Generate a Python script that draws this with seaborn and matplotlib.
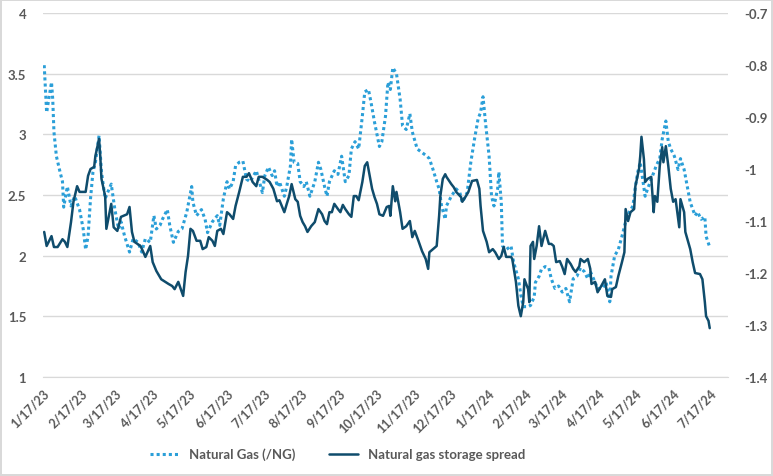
import pandas as pd
import matplotlib
matplotlib.use("Agg")
import matplotlib.pyplot as plt
import seaborn as sns

# dates are given as days after 1/17/23
start = pd.Timestamp("2023-01-17")

ng_days = [1, 3, 7, 8, 9, 11, 14, 16, 17, 20, 23, 26, 30, 33, 35, 37, 39, 41, 43, 46,
           48, 51, 53, 56, 59, 62, 64, 67, 71, 74, 78, 81, 84, 88, 91, 93, 96, 98, 102, 104,
           107, 111, 114, 118, 122, 123, 126, 130, 133, 135, 139, 143, 145, 148, 151, 153, 156, 158, 161, 164,
           167, 170, 175, 180, 182, 185, 188, 190, 192, 194, 198, 200, 203, 204, 206, 209, 211, 214, 216, 219,
           223, 226, 228, 231, 233, 235, 239, 242, 245, 248, 251, 253, 256, 259, 262, 264, 267, 269, 272, 276,
           278, 281, 283, 285, 287, 290, 293, 295, 298, 301, 303, 307, 311, 315, 317, 320, 323, 325, 327, 330,
           331, 335, 339, 342, 344, 348, 351, 354, 357, 359, 361, 363, 366, 368, 370, 373, 374, 376, 377, 380,
           384, 386, 390, 392, 394, 398, 400, 403, 404, 407, 409, 412, 415, 417, 420, 423, 426, 429, 432, 435,
           438, 441, 444, 447, 449, 453, 455, 459, 462, 465, 466, 469, 472, 475, 478, 481, 484, 486, 488, 490,
           494, 496, 499, 502, 503, 506, 508, 511, 513, 515, 518, 521, 523, 526, 529, 531, 535, 537, 540, 543,
           544, 547]
ng_price = [3.57, 3.18, 3.43, 3.29, 3.02, 2.82, 2.69, 2.61, 2.40, 2.57, 2.41, 2.49, 2.38, 2.22, 2.05, 2.16, 2.47, 2.69, 2.77, 2.99,
            2.69, 2.47, 2.52, 2.59, 2.38, 2.22, 2.28, 2.16, 2.03, 2.14, 2.11, 2.03, 2.14, 2.11, 2.33, 2.22, 2.25, 2.30, 2.38, 2.25,
            2.11, 2.20, 2.22, 2.36, 2.57, 2.44, 2.33, 2.38, 2.30, 2.19, 2.28, 2.33, 2.25, 2.47, 2.61, 2.55, 2.61, 2.74, 2.77, 2.78,
            2.63, 2.61, 2.70, 2.52, 2.66, 2.73, 2.66, 2.70, 2.57, 2.61, 2.49, 2.57, 2.74, 2.96, 2.77, 2.76, 2.61, 2.57, 2.61, 2.49,
            2.61, 2.77, 2.71, 2.57, 2.49, 2.61, 2.70, 2.67, 2.82, 2.61, 2.66, 2.88, 2.94, 2.88, 3.15, 3.35, 3.37, 3.27, 3.10, 2.90,
            2.94, 3.15, 3.43, 3.37, 3.55, 3.50, 3.29, 3.07, 3.04, 3.17, 3.02, 2.88, 2.85, 2.82, 2.80, 2.71, 2.61, 2.55, 2.41, 2.30,
            2.41, 2.49, 2.55, 2.52, 2.44, 2.52, 2.77, 2.96, 3.13, 3.18, 3.31, 3.10, 2.82, 2.49, 2.41, 2.55, 2.69, 2.44, 2.08, 2.05,
            2.08, 1.95, 1.81, 1.68, 1.58, 1.58, 1.59, 1.66, 1.78, 1.83, 1.89, 1.91, 1.90, 1.81, 1.73, 1.75, 1.70, 1.73, 1.62, 1.81,
            1.83, 1.90, 1.87, 1.81, 1.87, 1.78, 1.73, 1.73, 1.78, 1.62, 1.83, 2.00, 2.05, 2.16, 2.28, 2.36, 2.41, 2.57, 2.69, 2.77,
            2.49, 2.55, 2.63, 2.71, 2.74, 2.80, 2.96, 3.11, 2.94, 2.88, 2.82, 2.71, 2.80, 2.71, 2.55, 2.44, 2.33, 2.36, 2.30, 2.32,
            2.16, 2.07]

spread_days = [1, 3, 7, 9, 12, 16, 18, 20, 23, 25, 28, 30, 35, 37, 39, 42, 43, 46, 47, 48,
               51, 52, 56, 58, 61, 64, 66, 69, 71, 73, 75, 80, 82, 84, 88, 90, 93, 97, 99, 103,
               106, 108, 111, 115, 117, 119, 121, 123, 126, 129, 131, 134, 136, 139, 141, 143, 146, 148, 151, 153,
               156, 158, 161, 164, 167, 169, 172, 175, 177, 180, 184, 186, 189, 192, 194, 198, 200, 202, 204, 207,
               209, 211, 213, 215, 217, 220, 223, 226, 229, 231, 233, 235, 237, 239, 242, 244, 246, 248, 251, 253,
               255, 257, 259, 262, 264, 266, 267, 270, 272, 274, 276, 279, 282, 284, 285, 287, 289, 290, 293, 295,
               298, 301, 303, 305, 308, 311, 314, 316, 317, 320, 323, 325, 326, 328, 330, 331, 335, 337, 339, 343,
               344, 347, 349, 352, 356, 358, 359, 361, 364, 366, 369, 371, 374, 376, 378, 380, 384, 385, 388, 390,
               392, 394, 395, 398, 399, 400, 402, 403, 405, 407, 409, 412, 415, 417, 419, 421, 424, 426, 428, 430,
               433, 435, 437, 440, 441, 444, 447, 449, 450, 453, 455, 458, 461, 463, 466, 467, 470, 472, 475, 477,
               478, 480, 482, 485, 486, 489, 490, 491, 493, 494, 496, 499, 501, 502, 504, 506, 508, 509, 511, 513,
               515, 517, 519, 522, 523, 526, 527, 531, 533, 535, 539, 541, 543, 544, 546, 547]
spread = [-1.121, -1.148, -1.129, -1.150, -1.150, -1.135, -1.140, -1.150, -1.102, -1.063, -1.033, -1.044, -1.044, -1.013, -1.000, -0.996, -0.975, -0.942, -0.975, -1.019,
          -1.052, -1.115, -1.067, -1.112, -1.119, -1.092, -1.090, -1.087, -1.073, -1.121, -1.140, -1.148, -1.158, -1.169, -1.148, -1.179, -1.196, -1.212, -1.215, -1.221,
          -1.225, -1.231, -1.217, -1.244, -1.198, -1.167, -1.115, -1.119, -1.138, -1.138, -1.154, -1.150, -1.131, -1.138, -1.148, -1.119, -1.115, -1.125, -1.083, -1.087,
          -1.096, -1.071, -1.044, -1.015, -1.015, -1.008, -1.025, -1.033, -1.015, -1.015, -1.021, -1.025, -1.038, -1.062, -1.060, -1.083, -1.067, -1.052, -1.029, -1.058,
          -1.063, -1.090, -1.102, -1.110, -1.121, -1.110, -1.102, -1.077, -1.087, -1.100, -1.106, -1.083, -1.083, -1.067, -1.077, -1.083, -1.069, -1.077, -1.087, -1.092,
          -1.052, -1.052, -1.060, -1.025, -0.994, -0.987, -1.000, -1.038, -1.054, -1.067, -1.087, -1.090, -1.073, -1.071, -1.090, -1.033, -1.062, -1.044, -1.083, -1.115,
          -1.110, -1.100, -1.131, -1.119, -1.138, -1.158, -1.173, -1.192, -1.160, -1.154, -1.148, -1.090, -1.052, -1.019, -1.010, -1.015, -1.029, -1.035, -1.044, -1.054,
          -1.063, -1.052, -1.044, -1.023, -1.021, -1.038, -1.071, -1.119, -1.140, -1.160, -1.154, -1.160, -1.173, -1.167, -1.150, -1.169, -1.169, -1.173, -1.217, -1.263,
          -1.283, -1.256, -1.212, -1.231, -1.256, -1.148, -1.140, -1.173, -1.148, -1.110, -1.148, -1.119, -1.144, -1.144, -1.148, -1.179, -1.177, -1.188, -1.202, -1.173,
          -1.183, -1.192, -1.198, -1.187, -1.173, -1.179, -1.173, -1.192, -1.221, -1.217, -1.237, -1.225, -1.212, -1.244, -1.246, -1.231, -1.227, -1.206, -1.179, -1.160,
          -1.077, -1.100, -1.083, -1.077, -1.033, -1.000, -0.975, -0.938, -0.981, -1.025, -1.019, -1.015, -1.083, -1.052, -1.063, -0.994, -0.958, -0.987, -0.956, -0.994,
          -1.038, -1.063, -1.058, -1.112, -1.058, -1.083, -1.121, -1.154, -1.179, -1.200, -1.202, -1.212, -1.256, -1.283, -1.292, -1.306]

tick_labels = ["1/17/23", "2/17/23", "3/17/23", "4/17/23", "5/17/23", "6/17/23", "7/17/23",
               "8/17/23", "9/17/23", "10/17/23", "11/17/23", "12/17/23", "1/17/24", "2/17/24",
               "3/17/24", "4/17/24", "5/17/24", "6/17/24", "7/17/24"]

ng = pd.DataFrame({"date": start + pd.to_timedelta(ng_days, unit="D"), "value": ng_price})
sp = pd.DataFrame({"date": start + pd.to_timedelta(spread_days, unit="D"), "value": spread})

light = "#2B9FD8"
dark = "#0F4C6C"
txt = "#595959"

sns.set_style("white")
plt.rcParams["font.family"] = ["Lato", "DejaVu Sans"]

fig = plt.figure(figsize=(7.73, 4.77), dpi=100)
fig.patch.set_edgecolor("#D9D9D9")
fig.patch.set_linewidth(1.5)
ax = fig.add_axes([0.0556, 0.2075, 0.8862, 0.7631])
ax2 = ax.twinx()

sns.lineplot(data=ng, x="date", y="value", ax=ax, color=light, linewidth=2.2,
             linestyle=(0, (1, 1)), label="Natural Gas (/NG)", legend=False)
sns.lineplot(data=sp, x="date", y="value", ax=ax2, color=dark, linewidth=1.8,
             label="Natural gas storage spread", legend=False)

ax.set_ylim(1, 4)
ax.set_yticks([1, 1.5, 2, 2.5, 3, 3.5, 4])
ax.set_yticklabels(["1", "1.5", "2", "2.5", "3", "3.5", "4"])
ax2.set_ylim(-1.4, -0.7)
ax2.set_yticks([-1.4, -1.3, -1.2, -1.1, -1.0, -0.9, -0.8, -0.7])
ax2.set_yticklabels(["-1.4", "-1.3", "-1.2", "-1.1", "-1", "-0.9", "-0.8", "-0.7"])

ticks = [start + pd.DateOffset(months=i) for i in range(len(tick_labels))]
ax.set_xticks(ticks)
ax.set_xticklabels(tick_labels, rotation=45, ha="right", rotation_mode="anchor")
ax.set_xlim(start, pd.Timestamp("2024-08-01"))

ax.grid(axis="y", color="#D9D9D9", linewidth=1)
ax.set_axisbelow(True)
for a in (ax, ax2):
    a.set_xlabel("")
    a.set_ylabel("")
    for s in a.spines.values():
        s.set_visible(False)
ax.spines["bottom"].set_visible(True)
ax.spines["bottom"].set_color("#D9D9D9")

ax.tick_params(axis="x", length=4, color="#D9D9D9", pad=3, labelsize=9, labelcolor=txt)
ax.tick_params(axis="y", length=0, pad=12, labelsize=9.5, labelcolor=txt)
ax2.tick_params(axis="y", length=0, pad=12, labelsize=9.5, labelcolor=txt)
for lab in ax.get_xticklabels() + ax.get_yticklabels() + ax2.get_yticklabels():
    lab.set_fontweight("bold")

h1, l1 = ax.get_legend_handles_labels()
h2, l2 = ax2.get_legend_handles_labels()
leg = fig.legend(h1 + h2, l1 + l2, loc="center", bbox_to_anchor=(0.437, 0.046), ncol=2,
                 frameon=False, fontsize=9.5, handlelength=2.2, columnspacing=2.5)
for t in leg.get_texts():
    t.set_color(txt)
    t.set_fontweight("bold")

fig.savefig("out.png", dpi=100)
